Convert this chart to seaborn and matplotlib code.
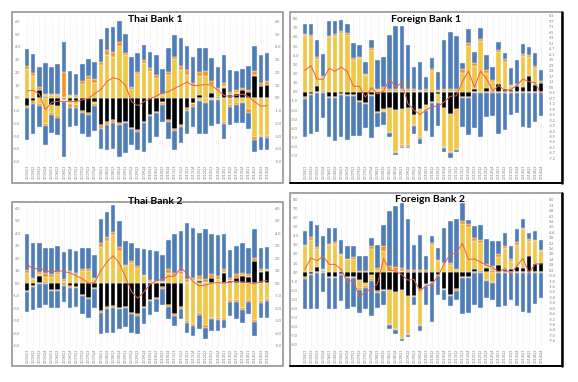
import numpy as np
import matplotlib.pyplot as plt
import seaborn as sns
from matplotlib.patches import Rectangle

sns.set_theme(style='white')
plt.rcParams['font.family'] = ['Lato', 'DejaVu Sans']

BLUE = '#4F7DB8'
YELLOW = '#F2C744'
ORANGE = '#F7941D'
BLACK = '#000000'
RED = '#E8604C'
TICK = '#7f7f7f'

quarters = [f'{y}Q{q}' for y in range(2005, 2015) for q in range(1, 5)]

# ---- Thai Bank 1
tb1_black = [-0.6, -0.25, 0.6, 0.1, -0.55, -0.6, -0.1, -0.2, -0.25, -1.0, -1.2, -0.35, -2.15, -1.9, -1.75, -2.0, -1.9, -2.35, -2.55, -1.9,
             -1.35, -1.1, -0.3, -1.75, -2.4, -2.1, -0.8, -0.4, 0.25, 0.0, 0.4, 0.1, 0.8, 0.2, 0.35, 0.6, 0.45, 1.75, 0.9, 1.0]
tb1_yel_up = [2.3, 1.7, 0.0, 0.1, 0.2, 0.2, 0.1, 0.15, 0.1, 1.1, 1.45, 1.2, 2.55, 3.4, 3.2, 4.1, 3.35, 0.7, 1.9, 2.75,
              2.15, 1.6, 0.25, 1.8, 3.05, 2.2, 1.8, 0.95, 1.5, 1.75, 0.6, 0.55, 0.1, 0.1, 0.1, 0.05, 0.05, 0.05, 0.05, 0.05]
tb1_org_up = [0.2, 0.25, 0.25, 0.1, 0.1, 0.1, 1.9, 0.1, 0.1, 0.25, 0.25, 0.25, 0.25, 0.35, 0.4, 0.3, 0.15, 0.15, 0.15, 0.2,
              0.2, 0.2, 0.1, 0.25, 0.2, 0.3, 0.4, 0.2, 0.3, 0.35, 0.35, 0.15, 0.25, 0.15, 0.2, 0.15, 0.1, 0.3, 0.2, 0.3]
tb1_blu_up = [1.35, 1.5, 1.55, 2.45, 2.15, 2.35, 2.4, 1.85, 1.7, 1.35, 1.35, 1.4, 1.85, 1.75, 2.0, 1.65, 1.55, 2.4, 1.5, 1.2,
              1.25, 1.6, 1.95, 1.85, 1.65, 2.2, 1.9, 2.1, 1.85, 1.8, 1.75, 1.6, 2.25, 1.75, 1.45, 1.5, 1.9, 2.0, 2.25, 2.2]
tb1_yel_dn = [0.0, 0.0, 0.5, 2.05, 0.65, 0.8, 0.1, 0.3, 0.3, 0.0, 0.0, 0.1, 0.0, 0.0, 0.0, 0.0, 0.0, 0.0, 0.0, 0.0,
              0.0, 0.0, 0.1, 0.0, 0.0, 0.0, 0.0, 0.1, 0.2, 0.35, 0.1, 0.1, 1.85, 0.55, 0.4, 0.3, 0.9, 3.1, 2.95, 3.0]
tb1_org_dn = [0.2, 0.25, 0.15, 0.15, 0.15, 0.15, 0.1, 0.25, 0.2, 0.15, 0.1, 0.15, 0.25, 0.2, 0.2, 0.15, 0.1, 0.1, 0.15, 0.1,
              0.1, 0.1, 0.15, 0.15, 0.2, 0.2, 0.2, 0.2, 0.05, 0.05, 0.05, 0.05, 0.2, 0.15, 0.15, 0.1, 0.25, 0.2, 0.15, 0.15]
tb1_blu_dn = [2.5, 2.3, 1.65, 1.45, 1.4, 1.35, 4.3, 1.5, 1.45, 1.7, 1.75, 2.0, 1.6, 1.95, 2.05, 2.5, 2.3, 1.2, 1.4, 2.2,
              2.1, 1.85, 1.3, 1.35, 1.45, 1.25, 1.85, 1.6, 2.6, 2.4, 2.05, 1.9, 1.2, 1.45, 1.45, 1.6, 1.25, 0.95, 0.95, 0.95]
tb1_line = [0.55, 0.6, 0.3, -0.9, -0.35, -0.25, -0.3, -0.25, -0.3, -0.15, -0.05, 0.35, 0.65, 1.3, 1.6, 1.45, 1.0, -0.3, -0.6, -0.3,
            -0.05, 0.15, 0.4, 0.5, 0.75, 1.0, 1.25, 0.95, 1.0, 1.05, 1.0, 0.6, 0.2, 0.1, 0.2, 0.3, 0.1, -0.3, -0.65, -0.6]

# ---- Foreign Bank 1
fb1_black = [-0.6, -0.25, 0.6, 0.1, -0.55, -0.6, -0.3, -0.4, -0.4, -1.0, -1.2, -0.35, -2.2, -1.9, -1.8, -2.0, -1.9, -1.8, -2.5, -1.9,
             -1.45, -1.1, -0.3, -1.8, -2.4, -1.85, -0.6, -0.55, 0.3, 0.0, 0.4, 0.05, 0.8, 0.3, 0.2, 0.6, 0.55, 1.75, 0.75, 0.95]
fb1_yel_up = [6.2, 6.0, 3.0, 1.5, 5.95, 6.05, 6.45, 6.25, 3.5, 3.65, 1.8, 4.6, 0.15, 0.3, 0.1, 0.1, 0.1, 0.1, 0.1, 0.05,
              0.1, 2.25, 0.1, 0.1, 0.1, 0.1, 2.0, 5.0, 2.5, 5.5, 1.65, 1.0, 3.5, 3.0, 0.4, 0.05, 3.35, 2.0, 1.9, 0.05]
fb1_org_up = [0.15, 0.2, 0.2, 0.15, 0.2, 0.25, 0.15, 0.15, 0.15, 0.15, 0.15, 0.2, 0.15, 0.2, 0.25, 0.25, 0.2, 0.15, 0.15, 0.15,
              0.15, 0.25, 0.1, 0.15, 0.15, 0.15, 0.5, 0.3, 0.4, 0.3, 0.3, 0.25, 0.25, 0.25, 0.15, 0.15, 0.2, 0.25, 0.2, 0.2]
fb1_blu_up = [1.05, 1.2, 1.9, 2.35, 1.55, 1.4, 1.2, 1.05, 1.65, 1.35, 1.35, 0.85, 3.15, 3.3, 5.9, 6.8, 6.85, 4.85, 2.5, 3.1,
              1.35, 1.15, 1.95, 5.4, 6.3, 5.85, 0.6, 1.55, 1.2, 1.2, 1.65, 1.4, 0.9, 0.7, 1.8, 2.65, 1.15, 0.9, 1.35, 1.15]
fb1_yel_dn = [0.0, 0.0, 0.0, 0.0, 0.0, 0.0, 0.0, 0.0, 0.0, 0.0, 0.0, 0.0, 0.0, 0.2, 2.6, 4.6, 3.95, 4.05, 1.1, 3.1,
              0.45, 0.0, 0.8, 4.2, 4.2, 4.4, 0.0, 0.0, 0.0, 0.0, 0.0, 0.0, 0.0, 0.0, 0.0, 0.0, 0.0, 0.0, 0.0, 0.0]
fb1_org_dn = [0.2, 0.1, 0.1, 0.1, 0.15, 0.1, 0.1, 0.1, 0.1, 0.1, 0.1, 0.15, 0.15, 0.1, 0.15, 0.15, 0.15, 0.15, 0.15, 0.2,
              0.2, 0.15, 0.1, 0.15, 0.15, 0.15, 0.1, 0.1, 0.1, 0.1, 0.1, 0.1, 0.1, 0.1, 0.1, 0.1, 0.1, 0.1, 0.1, 0.1]
fb1_blu_dn = [4.2, 4.25, 4.3, 2.8, 4.3, 4.7, 4.6, 4.8, 4.3, 3.7, 2.65, 4.6, 1.5, 1.4, 0.35, 0.15, 0.15, 0.15, 0.85, 0.55,
              2.2, 3.75, 2.6, 0.5, 0.45, 0.25, 3.15, 4.05, 3.9, 4.8, 2.7, 2.6, 4.5, 4.1, 2.4, 2.25, 3.8, 3.9, 3.2, 2.6]
fb1_line = [2.35, 2.85, 1.4, 1.35, 2.55, 2.25, 2.7, 2.2, 0.6, 0.6, -0.6, 0.45, -0.25, 0.1, 1.4, 0.5, 1.0, -1.3, -2.0, -2.5,
            -2.0, -1.6, -1.6, -1.1, -0.5, -0.45, 1.1, 2.25, 0.5, 2.25, 1.4, 0.1, 0.7, 0.1, 0.25, 0.7, 1.4, 1.1, 1.0, -0.3]

# ---- Thai Bank 2
tb2_black = [-0.6, -0.2, 0.6, 0.1, -0.55, -0.55, -0.1, -0.25, -0.3, -0.95, -1.15, -0.4, -2.2, -1.9, -1.8, -1.95, -1.9, -2.4, -2.5, -1.9,
             -1.35, -1.15, -0.3, -1.75, -2.45, -1.9, 0.0, 0.0, 0.2, 0.0, 0.4, 0.1, 0.85, 0.2, 0.4, 0.6, 0.5, 1.75, 0.9, 1.0]
tb2_yel_up = [0.85, 0.3, 0.1, 0.4, 0.5, 0.75, 0.15, 0.8, 0.65, 1.0, 0.95, 0.3, 2.9, 3.35, 3.85, 2.6, 1.35, 1.65, 1.25, 0.55,
              0.1, 0.1, 0.1, 0.85, 0.6, 0.75, 0.1, 0.25, 0.1, 0.1, 0.05, 0.25, 0.05, 0.05, 0.05, 0.05, 0.05, 0.05, 0.05, 0.05]
tb2_org_up = [0.2, 0.15, 0.2, 0.35, 0.2, 0.15, 0.15, 0.15, 0.15, 0.15, 0.15, 0.15, 0.3, 0.35, 0.25, 0.3, 0.1, 0.1, 0.1, 0.1,
              0.15, 0.1, 0.05, 0.25, 0.2, 0.2, 0.2, 0.15, 0.3, 0.2, 0.3, 0.2, 0.25, 0.15, 0.25, 0.2, 0.15, 0.25, 0.15, 0.1]
tb2_blu_up = [2.9, 2.8, 2.35, 2.0, 2.1, 2.05, 2.2, 1.8, 1.75, 1.65, 1.7, 1.8, 1.9, 2.0, 2.15, 2.1, 1.95, 1.45, 1.5, 2.1,
              2.4, 2.4, 2.1, 2.35, 3.1, 3.2, 4.5, 4.05, 3.4, 4.0, 3.15, 3.3, 2.8, 2.25, 2.25, 2.4, 2.15, 2.25, 1.75, 1.75]
tb2_yel_dn = [0.0, 0.0, 0.0, 0.0, 0.0, 0.0, 0.0, 0.0, 0.0, 0.0, 0.0, 0.0, 0.0, 0.0, 0.0, 0.0, 0.0, 0.0, 0.0, 0.0,
              0.0, 0.0, 0.0, 0.0, 0.0, 0.0, 3.0, 3.3, 2.35, 3.35, 2.75, 2.8, 2.8, 1.35, 1.35, 2.0, 1.35, 2.95, 1.45, 1.3]
tb2_org_dn = [0.1, 0.1, 0.1, 0.1, 0.1, 0.1, 0.1, 0.1, 0.1, 0.1, 0.1, 0.1, 0.2, 0.15, 0.15, 0.1, 0.1, 0.1, 0.1, 0.1,
              0.1, 0.15, 0.15, 0.15, 0.15, 0.15, 0.15, 0.15, 0.2, 0.2, 0.15, 0.15, 0.15, 0.15, 0.15, 0.15, 0.15, 0.15, 0.15, 0.15]
tb2_blu_dn = [1.6, 1.85, 1.85, 1.65, 1.3, 1.3, 1.3, 1.65, 1.5, 1.4, 1.5, 1.5, 1.65, 1.9, 2.05, 1.6, 1.5, 1.5, 1.45, 1.25,
              1.1, 1.0, 1.3, 1.0, 0.8, 0.8, 0.8, 0.75, 1.15, 0.9, 0.95, 0.85, 0.65, 1.15, 1.35, 1.05, 1.0, 1.15, 1.15, 1.3]
tb2_line = [1.55, 1.1, 1.25, 1.0, 0.9, 1.0, 0.95, 0.8, 0.6, 0.35, 0.0, 0.05, 1.0, 1.7, 2.2, 1.6, 0.5, -0.7, -1.2, -0.7,
            -0.1, 0.2, 0.3, 0.55, 0.55, 1.25, 0.75, 0.1, -0.2, -0.15, 0.0, 0.05, 0.0, 0.1, 0.15, 0.1, 0.05, -0.05, 0.15, 0.2]

# ---- Foreign Bank 2
fb2_black = [-0.6, -0.25, 0.6, 0.15, -0.55, -0.6, -0.2, -0.55, -0.55, -0.9, -1.2, -0.3, -2.1, -2.0, -2.0, -2.2, -2.0, -2.65, -2.6, -1.9,
             -1.35, -1.1, -0.3, -1.85, -2.5, -1.9, -0.6, -0.55, 0.3, 0.1, 0.4, 0.1, 0.8, 0.2, 0.3, 0.55, 0.5, 1.75, 0.9, 0.95]
fb2_yel_up = [2.9, 3.6, 1.9, 0.05, 2.95, 3.1, 1.85, 1.4, 1.5, 0.05, 0.05, 2.6, 0.25, 2.3, 0.1, 0.1, 0.1, 0.05, 0.05, 0.05,
              0.05, 2.95, 1.25, 0.85, 0.75, 0.2, 5.3, 5.0, 3.1, 3.15, 0.3, 0.45, 0.85, 2.45, 0.9, 2.45, 4.25, 1.7, 2.5, 1.35]
fb2_org_up = [0.15, 0.25, 0.25, 0.15, 0.2, 0.2, 0.1, 0.1, 0.15, 0.1, 0.1, 0.25, 0.15, 0.55, 0.55, 0.45, 0.35, 0.15, 0.15, 0.2,
              0.2, 0.3, 0.1, 0.15, 0.2, 0.1, 0.35, 0.35, 0.35, 0.35, 0.15, 0.1, 0.35, 0.25, 0.2, 0.3, 0.15, 0.2, 0.2, 0.15]
fb2_blu_up = [1.45, 1.8, 2.45, 3.6, 1.7, 1.6, 1.55, 1.4, 1.25, 1.6, 1.6, 0.9, 2.65, 2.4, 6.15, 6.8, 7.2, 5.65, 2.75, 3.9,
              1.55, 0.75, 1.35, 3.9, 4.75, 5.6, 2.05, 0.45, 1.35, 1.6, 2.85, 2.8, 1.45, 1.45, 1.5, 1.5, 1.0, 0.7, 0.9, 1.1]
fb2_yel_dn = [0.0, 0.0, 0.0, 0.0, 0.0, 0.0, 0.0, 0.0, 0.0, 0.9, 0.4, 0.45, 0.0, 0.0, 3.7, 4.1, 5.3, 4.2, 0.0, 3.95,
              0.15, 0.0, 0.0, 0.0, 0.0, 0.0, 0.0, 0.0, 0.0, 0.0, 0.9, 1.1, 0.0, 0.0, 0.0, 0.0, 0.0, 0.0, 0.0, 0.0]
fb2_org_dn = [0.15, 0.1, 0.1, 0.1, 0.1, 0.1, 0.1, 0.1, 0.1, 0.15, 0.15, 0.25, 0.2, 0.15, 0.15, 0.15, 0.1, 0.15, 0.15, 0.15,
              0.1, 0.15, 0.1, 0.15, 0.15, 0.15, 0.1, 0.1, 0.1, 0.1, 0.1, 0.1, 0.1, 0.1, 0.1, 0.1, 0.1, 0.1, 0.1, 0.1]
fb2_blu_dn = [3.35, 3.75, 3.95, 2.15, 3.4, 3.35, 2.9, 3.45, 3.25, 2.55, 2.35, 3.85, 1.7, 1.45, 0.5, 0.45, 0.2, 0.2, 0.95, 0.5,
              2.0, 4.25, 2.15, 1.1, 1.15, 1.05, 3.9, 3.9, 3.6, 3.9, 1.85, 1.85, 3.8, 3.7, 2.95, 3.7, 4.35, 4.4, 3.4, 2.75]
fb2_line = [0.3, 1.55, 1.25, 1.75, 0.85, 0.85, 0.3, -1.1, -0.9, -2.75, -2.2, -1.85, -1.3, 1.5, 0.2, 0.1, -0.3, -0.9, -0.8, -2.1,
            -1.5, -1.4, -0.4, 0.9, 2.0, 2.1, 3.2, 1.4, 1.45, 1.1, 0.75, 0.5, 0.0, 0.4, -0.2, 0.7, 1.5, -0.1, 0.9, 0.9]


def px(x0, y0, x1, y1):
    # pixel box -> figure fraction
    return [x0 / 578, 1 - y1 / 382, (x1 - x0) / 578, (y1 - y0) / 382]


fig = plt.figure(figsize=(5.78, 3.82), dpi=100)


def panel(frame, box, title, tpos, black, ups, dns, line, ylim, lticks, rticks, dark_edge=False):
    fx = px(*frame)
    fig.patches.append(Rectangle((fx[0], fx[1]), fx[2], fx[3], transform=fig.transFigure,
                                 fill=False, edgecolor='#8c8c8c', lw=1.1, zorder=0))
    if dark_edge:
        fig.lines.append(plt.Line2D([fx[0] + fx[2]] * 2, [fx[1], fx[1] + fx[3]], transform=fig.transFigure,
                                    color='black', lw=1.8))
        fig.lines.append(plt.Line2D([fx[0], fx[0] + fx[2]], [fx[1]] * 2, transform=fig.transFigure,
                                    color='black', lw=1.4))
    ax = fig.add_axes(px(*box))
    x = np.arange(len(black))
    black = np.array(black)
    kw = dict(width=0.75, edgecolor='#eef2f8', linewidth=0.3, zorder=2)
    pos = np.clip(black, 0, None)
    neg = np.clip(black, None, 0)
    ax.bar(x, pos, color=BLACK, **kw)
    ax.bar(x, neg, color=BLACK, **kw)
    base = pos.copy()
    for vals, col in zip(ups, [YELLOW, ORANGE, BLUE]):
        vals = np.array(vals)
        ax.bar(x, vals, bottom=base, color=col, **kw)
        base = base + vals
    base = neg.copy()
    for vals, col in zip(dns, [YELLOW, ORANGE, BLUE]):
        vals = np.array(vals)
        ax.bar(x, -vals, bottom=base, color=col, **kw)
        base = base - vals
    sns.lineplot(x=x, y=line, ax=ax, color=RED, linewidth=0.7, zorder=3)
    ax.set_xlim(-0.8, len(black) - 0.2)
    ax.set_ylim(*ylim)
    ax.set_xticks(x)
    ax.set_xticklabels(quarters, rotation=90, fontsize=2.8, color=TICK)
    ax.set_yticks(lticks)
    ax.set_yticklabels([f'{v:.1f}' for v in lticks], fontsize=2.8, color=TICK)
    ax.tick_params(length=0, pad=1.5)
    ax.grid(axis='x', color='#efefef', lw=0.4, zorder=0)
    for s in ax.spines.values():
        s.set_visible(False)
    ax2 = ax.twinx()
    ax2.set_ylim(*ylim)
    ax2.set_yticks(rticks)
    ax2.set_yticklabels([f'{v:.1f}' for v in rticks], fontsize=2.8, color=TICK)
    ax2.tick_params(length=0, pad=2)
    ax2.grid(False)
    for s in ax2.spines.values():
        s.set_visible(False)
    fig.text(tpos[0] / 578, 1 - tpos[1] / 382, title, ha='center', va='center',
             fontsize=7.5, fontweight='bold', color='black')


panel((12, 12, 283, 183), (22, 17, 272, 163), 'Thai Bank 1', (155, 19),
      tb1_black, [tb1_yel_up, tb1_org_up, tb1_blu_up], [tb1_yel_dn, tb1_org_dn, tb1_blu_dn], tb1_line,
      (-5.1, 6.35), np.arange(-5, 7), np.arange(-5, 7))

panel((290, 12, 562, 183), (300, 15, 546, 163), 'Foreign Bank 1', (426, 19),
      fb1_black, [fb1_yel_up, fb1_org_up, fb1_blu_up], [fb1_yel_dn, fb1_org_dn, fb1_blu_dn], fb1_line,
      (-7.8, 8.4), np.arange(-7, 9), np.round(8.3 - 0.6 * np.arange(27), 1), dark_edge=True)

panel((12, 202, 283, 366), (22, 205, 272, 347), 'Thai Bank 2', (155, 202),
      tb2_black, [tb2_yel_up, tb2_org_up, tb2_blu_up], [tb2_yel_dn, tb2_org_dn, tb2_blu_dn], tb2_line,
      (-5.1, 6.25), np.arange(-5, 7), np.arange(-5, 7))

panel((290, 193, 562, 366), (300, 198, 546, 347), 'Foreign Bank 2', (430, 200),
      fb2_black, [fb2_yel_up, fb2_org_up, fb2_blu_up], [fb2_yel_dn, fb2_org_dn, fb2_blu_dn], fb2_line,
      (-8.3, 8.2), np.arange(-8, 9), np.round(8.0 - 0.6 * np.arange(27), 1), dark_edge=True)

fig.savefig('out.png', dpi=100, facecolor='white')
